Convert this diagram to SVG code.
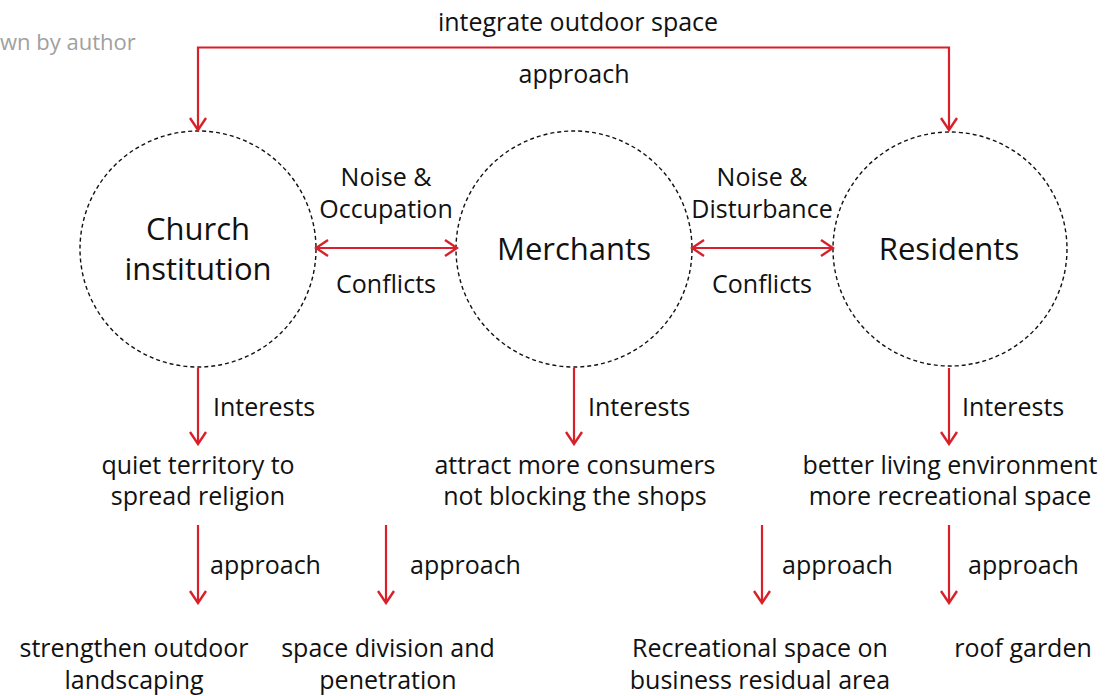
<svg xmlns="http://www.w3.org/2000/svg" width="1106" height="696" viewBox="0 0 1106 696">
<style>
text{font-family:"Open Sans","Noto Sans","Liberation Sans",sans-serif;fill:#111;font-size:25px}
.c{text-anchor:middle}
.big{font-size:31px}
.note{fill:#a0a0a0;font-size:22px}
.ring{fill:none;stroke:#111;stroke-width:1.4;stroke-dasharray:4 3}
.ln{fill:none;stroke:#d9202a;stroke-width:2.2}
</style>
<defs>
<marker id="ah" viewBox="0 0 20 20" refX="18" refY="10" markerWidth="20" markerHeight="20" markerUnits="userSpaceOnUse" orient="auto-start-reverse">
<path d="M6,2 L18,10 L6,18" fill="none" stroke="#d9202a" stroke-width="2.4"/>
</marker>
</defs>
<rect width="1106" height="696" fill="#fff"/>
<text x="0" y="50" class="note">wn by author</text>

<g id="church">
<circle cx="198" cy="249" r="118" class="ring"/>
<text x="198" y="240" class="c big">Church</text>
<text x="198" y="280" class="c big">institution</text>
</g>
<g id="merchants">
<circle cx="574" cy="249" r="118" class="ring"/>
<text x="574" y="260" class="c big">Merchants</text>
</g>
<g id="residents">
<circle cx="950" cy="249" r="117" class="ring"/>
<text x="949" y="260" class="c big">Residents</text>
</g>

<g id="church-interest">
<text x="198" y="474" class="c">quiet territory to</text>
<text x="198" y="505" class="c">spread religion</text>
</g>
<g id="merchant-interest">
<text x="575" y="474" class="c">attract more consumers</text>
<text x="575" y="505" class="c">not blocking the shops</text>
</g>
<g id="resident-interest">
<text x="950" y="474" class="c">better living environment</text>
<text x="950" y="505" class="c">more recreational space</text>
</g>

<g id="landscaping">
<text x="134" y="657" class="c">strengthen outdoor</text>
<text x="134" y="689" class="c">landscaping</text>
</g>
<g id="division">
<text x="388" y="657" class="c">space division and</text>
<text x="388" y="689" class="c">penetration</text>
</g>
<g id="recreational">
<text x="760" y="657" class="c">Recreational space on</text>
<text x="760" y="689" class="c">business residual area</text>
</g>
<g id="roof">
<text x="1023" y="657" class="c">roof garden</text>
</g>

<g id="connectors">
<path d="M198,130 V47.5 H949 V130" class="ln" marker-start="url(#ah)" marker-end="url(#ah)"/>
<text x="578" y="31" class="c">integrate outdoor space</text>
<text x="574" y="83" class="c">approach</text>

<line x1="316" y1="248" x2="457" y2="248" class="ln" marker-start="url(#ah)" marker-end="url(#ah)"/>
<text x="386" y="186" class="c">Noise &amp;</text>
<text x="386" y="218" class="c">Occupation</text>
<text x="386" y="293" class="c">Conflicts</text>

<line x1="692" y1="248" x2="833" y2="248" class="ln" marker-start="url(#ah)" marker-end="url(#ah)"/>
<text x="762" y="186" class="c">Noise &amp;</text>
<text x="762" y="218" class="c">Disturbance</text>
<text x="762" y="293" class="c">Conflicts</text>

<line x1="198" y1="368" x2="198" y2="444" class="ln" marker-end="url(#ah)"/>
<line x1="574" y1="368" x2="574" y2="444" class="ln" marker-end="url(#ah)"/>
<line x1="949" y1="368" x2="949" y2="444" class="ln" marker-end="url(#ah)"/>
<text x="213" y="416">Interests</text>
<text x="588" y="416">Interests</text>
<text x="962" y="416">Interests</text>

<line x1="198" y1="525" x2="198" y2="603" class="ln" marker-end="url(#ah)"/>
<line x1="386" y1="525" x2="386" y2="603" class="ln" marker-end="url(#ah)"/>
<line x1="762" y1="525" x2="762" y2="603" class="ln" marker-end="url(#ah)"/>
<line x1="949" y1="525" x2="949" y2="603" class="ln" marker-end="url(#ah)"/>
<text x="210" y="574">approach</text>
<text x="410" y="574">approach</text>
<text x="782" y="574">approach</text>
<text x="968" y="574">approach</text>
</g>
</svg>
